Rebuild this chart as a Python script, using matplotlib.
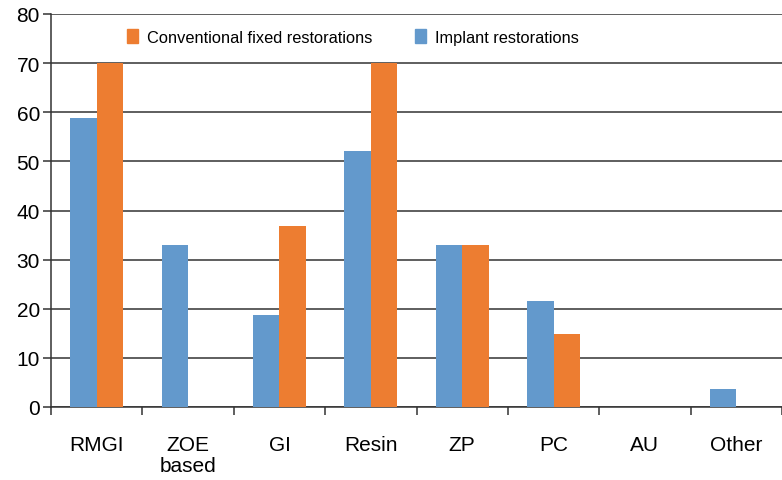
"""Grouped bar chart of luting cements used for implant vs conventional restorations."""
import matplotlib.pyplot as plt
import numpy as np
from matplotlib.patches import Patch

categories = ["RMGI", "ZOE\nbased", "GI", "Resin", "ZP", "PC", "AU", "Other"]
implant = [58.8, 33, 18.7, 52.1, 33, 21.6, 0, 3.7]
conventional = [70, 0, 36.8, 70, 33, 14.9, 0, 0]

BLUE = "#6399cc"
ORANGE = "#ed7d31"
GRID = "#333333"

plt.rcParams["font.family"] = ["Liberation Sans", "DejaVu Sans"]

fig = plt.figure(figsize=(7.82, 4.81), dpi=100)
ax = fig.add_axes([51 / 782, 73 / 481, 1 - 51 / 782, (408 - 15) / 481])

x = np.arange(len(categories))
w = 0.29
ax.bar(x - w / 2, implant, width=w, color=BLUE, zorder=3)
ax.bar(x + w / 2, conventional, width=w, color=ORANGE, zorder=3)

ax.set_xlim(-0.5, len(categories) - 0.5)
ax.set_ylim(0, 80)
ax.set_yticks(np.arange(0, 81, 10))
ax.yaxis.grid(True, color=GRID, linewidth=1.1, zorder=0)
ax.set_axisbelow(True)

# labels sit at group centres, tick marks at group boundaries
ax.set_xticks(x)
ax.set_xticklabels(categories, fontsize=15, linespacing=1.15, va="top")
ax.set_xticks(np.arange(-0.5, len(categories)), minor=True)
ax.tick_params(axis="x", which="major", length=0, pad=20)
ax.tick_params(axis="x", which="minor", length=6, width=1.1, color=GRID, direction="out")
ax.tick_params(axis="y", length=6, width=1.1, color=GRID, pad=2, labelsize=15)

for side in ("top", "right"):
    ax.spines[side].set_visible(False)
ax.spines["left"].set_color(GRID)
ax.spines["left"].set_linewidth(1.1)
ax.spines["bottom"].set_color(GRID)
ax.spines["bottom"].set_linewidth(1.1)

handles = [
    Patch(color=ORANGE, label="Conventional fixed restorations"),
    Patch(color=BLUE, label="Implant restorations"),
]
fig.legend(
    handles=handles,
    loc="center left",
    bbox_to_anchor=(127 / 782, 1 - 38 / 481),
    ncol=2,
    frameon=False,
    fontsize=11.8,
    handlelength=0.67,
    handleheight=0.88,
    handletextpad=0.52,
    columnspacing=2.65,
    borderpad=0,
    borderaxespad=0,
)

fig.savefig("out.png", dpi=100)
